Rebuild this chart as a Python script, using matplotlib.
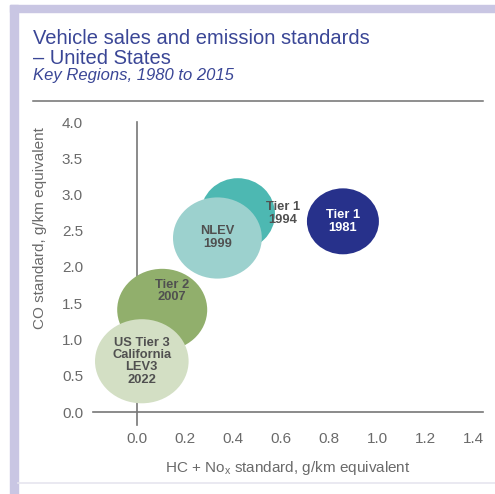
import matplotlib
matplotlib.use("Agg")
import matplotlib.pyplot as plt
from matplotlib.patches import Ellipse, Rectangle
from matplotlib.lines import Line2D

plt.rcParams['font.family'] = ['Liberation Sans', 'DejaVu Sans']
plt.rcParams['mathtext.fontset'] = 'custom'
plt.rcParams['mathtext.rm'] = 'Liberation Sans'

# Data
labels = ["US Tier 3\nCalifornia\nLEV3\n2022", "Tier 2\n2007", "NLEV\n1999", "Tier 1\n1994", "Tier 1\n1981"]
hc_nox = [0.02, 0.105, 0.335, 0.42, 0.858]
co = [0.70, 1.41, 2.40, 2.73, 2.63]
bubble_w = [0.39, 0.375, 0.37, 0.31, 0.30]
bubble_h = [1.16, 1.13, 1.12, 0.99, 0.91]
label_x = [0.02, 0.146, 0.335, 0.608, 0.858]
label_y = [0.70, 1.67, 2.41, 2.74, 2.63]
colors = ["#D3DFC4", "#91AF6C", "#9CD1CE", "#4DB8B2", "#27318B"]
label_colors = ["#505050", "#505050", "#505050", "#505050", "#ffffff"]
zorders = [5, 4, 3, 2, 2]
xticks = [0.0, 0.2, 0.4, 0.6, 0.8, 1.0, 1.2, 1.4]
yticks = [0.0, 0.5, 1.0, 1.5, 2.0, 2.5, 3.0, 3.5, 4.0]

W, H = 495, 494
fig = plt.figure(figsize=(W / 100, H / 100), dpi=100)

# frame decorations
fig.patches.append(Rectangle((10 / W, 1 - 12.5 / H), 1 - 10 / W, 7.5 / H, transform=fig.transFigure,
                             color="#C9C6E3", zorder=0))
fig.patches.append(Rectangle((10 / W, 0), 7.5 / W, 1 - 5 / H, transform=fig.transFigure,
                             color="#C9C6E3", zorder=0))
fig.lines.append(Line2D([17.5 / W, 1], [1 - 483 / H, 1 - 483 / H], transform=fig.transFigure,
                        color="#E6E5EF", lw=1.2))
fig.lines.append(Line2D([33 / W, 483 / W], [1 - 101 / H, 1 - 101 / H], transform=fig.transFigure,
                        color="#707070", lw=1.1))

title_color = "#3A4696"
fig.text(33 / W, 1 - 44 / H, "Vehicle sales and emission standards", fontsize=14.5,
         color=title_color, ha="left", va="baseline")
fig.text(33 / W, 1 - 64 / H, "\u2013 United States", fontsize=14.5,
         color=title_color, ha="left", va="baseline")
fig.text(33 / W, 1 - 80 / H, "Key Regions, 1980 to 2015", fontsize=12, style="italic",
         color=title_color, ha="left", va="baseline")

xmin, xmax = -0.19, 1.45
ymin, ymax = -0.2, 4.05
px_x = 240.0
px_y = 72.5
left_px = 137 + xmin * px_x
right_px = 137 + xmax * px_x
bottom_px = 412 - ymin * px_y
top_px = 412 - ymax * px_y
ax = fig.add_axes([left_px / W, 1 - bottom_px / H, (right_px - left_px) / W, (bottom_px - top_px) / H])
ax.set_xlim(xmin, xmax)
ax.set_ylim(ymin, ymax)
for s in ax.spines.values():
    s.set_visible(False)
ax.set_facecolor("none")

ax.plot([0, 0], [-0.18, 4.0], color="#777777", lw=1.2, zorder=1)
ax.plot([-0.183, 1.442], [0, 0], color="#777777", lw=1.2, zorder=1)

for i in range(len(labels)):
    e = Ellipse((hc_nox[i], co[i]), bubble_w[i], bubble_h[i], facecolor=colors[i],
                edgecolor="none", zorder=zorders[i])
    ax.add_patch(e)
    ax.text(label_x[i], label_y[i], labels[i], ha="center", va="center", fontsize=9.3,
            fontweight="bold", color=label_colors[i], linespacing=1.05, zorder=10)

ax.set_xticks(xticks)
ax.set_xticklabels([f"{v:.1f}" for v in xticks])
ax.set_yticks(yticks)
ax.set_yticklabels([f"{v:.1f}" for v in yticks])
ax.tick_params(length=0, labelsize=11, labelcolor="#6a6a6a")
ax.tick_params(axis="y", pad=6)
ax.tick_params(axis="x", pad=4)

fig.text(40 / W, 1 - 228 / H, "CO standard, g/km equivalent", rotation=90, fontsize=11,
         color="#6a6a6a", ha="center", va="center")
fig.text(288 / W, 1 - 468 / H, r"HC + No$_{\mathrm{x}}$ standard, g/km equivalent", fontsize=11,
         color="#6a6a6a", ha="center", va="center")

fig.savefig("out.png", dpi=100)
